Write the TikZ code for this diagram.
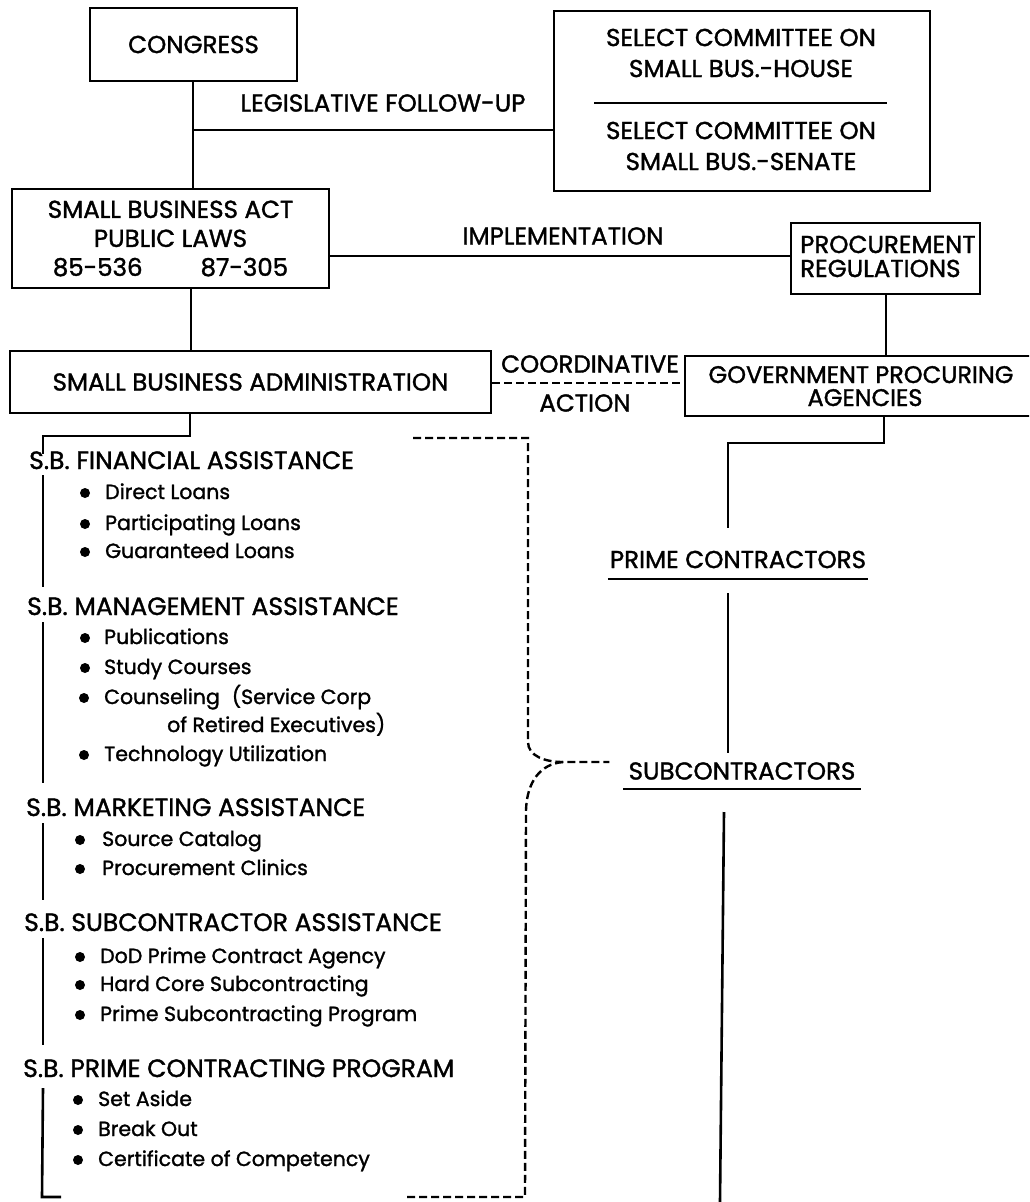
\documentclass[tikz,border=0pt]{standalone}
\usepackage{fontspec}
\setmainfont{Poppins}[FakeBold=1.4]
\newcommand\mybig{\fontsize{24.5}{28}\selectfont}
\newcommand\myhead{\fontsize{25}{29}\selectfont}
\newcommand\myitem{\fontsize{20.5}{24}\selectfont}
\begin{document}
\begin{tikzpicture}[x=1pt,y=-1pt,
  box/.style={draw, line width=2.6pt, inner sep=0pt, font=\mybig},
  conn/.style={line width=2.6pt},
  dconn/.style={line width=2.4pt, dash pattern=on 8pt off 4pt},
  lbl/.style={inner sep=0pt, font=\mybig},
  head/.style={anchor=base west, inner sep=0pt, font=\myhead},
  itm/.style={anchor=base west, inner sep=0pt, font=\myitem},
  dot/.style={circle, fill, inner sep=0pt, minimum size=10pt}
]
\useasboundingbox (0,0) rectangle (1029,1202);
\clip (0,0) rectangle (1029,1202);

% top boxes
\node[box, minimum width=207pt, minimum height=73pt] (congress) at (193.5,44.5) {CONGRESS};
\node[box, minimum width=376pt, minimum height=180pt] (committee) at (742,101) {};
\node[lbl, align=center, font=\fontsize{24.5}{31}\selectfont] (c1) at (741,53) {SELECT COMMITTEE ON\\SMALL BUS.-HOUSE};
\node[lbl, align=center, font=\fontsize{24.5}{31}\selectfont] (c2) at (741,146) {SELECT COMMITTEE ON\\SMALL BUS.-SENATE};
\draw[line width=2.2pt] (594,103) -- (887,103);

\node[box, minimum width=317pt, minimum height=99pt, align=center, font=\fontsize{24.5}{29}\selectfont] (act) at (170.5,238.5) {SMALL BUSINESS ACT\\PUBLIC LAWS\\85-536\hspace{58pt}87-305};
\node[box, minimum width=189pt, minimum height=71pt, inner sep=0pt] (proc) at (885.5,258.5) {};
\node[lbl, anchor=base west] (proc1) at (800,253) {PROCUREMENT};
\node[lbl, anchor=base west] (proc2) at (800,277) {REGULATIONS};
\node[box, minimum width=481pt, minimum height=62pt] (sba) at (250.5,382) {SMALL BUSINESS ADMINISTRATION};
\node[box, minimum width=355pt, minimum height=60pt] (govbox) at (862.5,386) {};
\node[lbl, anchor=base, font=\fontsize{24}{28}\selectfont] (gov1) at (861,383) {GOVERNMENT PROCURING};
\node[lbl, anchor=base, font=\fontsize{24}{28}\selectfont] (gov2) at (865,406) {AGENCIES};

% labels
\node[lbl] (leg) at (383,103) {LEGISLATIVE FOLLOW-UP};
\node[lbl] (impl) at (563,236) {IMPLEMENTATION};
\node[lbl] (coord) at (590,364) {COORDINATIVE};
\node[lbl] (action) at (585,403) {ACTION};

% connectors top
\draw[conn] (congress.south -| 193,0) -- (193,0 |- act.north);
\coordinate (legj) at (193,130);
\draw[conn] (legj) -- (legj -| committee.west);
\draw[conn] (act.east |- 0,256) -- (proc.west |- 0,256);
\draw[conn] (191,0 |- act.south) -- (191,0 |- sba.north);
\draw[conn] (886,0 |- proc.south) -- (886,0 |- govbox.north);
\draw[dconn] (sba.east |- 0,383) -- (govbox.west |- 0,383);

% right column
\node[lbl] (prime) at (738,559.5) {PRIME CONTRACTORS};
\draw[conn] ([xshift=-2pt]prime.west |- 0,579) -- ([xshift=2pt]prime.east |- 0,579);
\node[lbl] (sub) at (742,771) {SUBCONTRACTORS};
\draw[conn] ([xshift=-5pt]sub.west |- 0,789) -- ([xshift=5pt]sub.east |- 0,789);
\draw[conn] (884,0 |- govbox.south) -- (884,443) -- (728,443) -- (728,528);
\draw[conn] (728,593) -- (728,753);
\coordinate (subend) at (720,1202);
\draw[conn] (724,812) -- (subend);

% dashed bracket
\coordinate (tip) at (563,762);
\draw[dconn] (413,438) -- (528,438) -- (528,742) .. controls (528,756) and (545,762) .. (tip) -- ([xshift=-19pt]sub.west |- tip);
\draw[dconn] (tip) .. controls (540,764) and (527,782) .. (526,810) -- (525,1197) -- (405,1197);

% left spine
\draw[conn] (190,0 |- sba.south) -- (190,436) -- (43,436) -- (43,454);
\draw[conn] (43,475) -- (43,587);
\draw[conn] (43,622) -- (43,783);
\draw[conn] (43,823) -- (43,900);
\draw[conn] (43,938) -- (43,1045);
\draw[conn] (43,1088) -- (42,1197) -- (61,1197);

% headings
\node[head] (h1) at (29,469) {S.B. FINANCIAL ASSISTANCE};
\node[head] (h2) at (27,615) {S.B. MANAGEMENT ASSISTANCE};
\node[head] (h3) at (26,816) {S.B. MARKETING ASSISTANCE};
\node[head] (h4) at (24,931) {S.B. SUBCONTRACTOR ASSISTANCE};
\node[head] (h5) at (23,1077) {S.B. PRIME CONTRACTING PROGRAM};

% items
\node[dot] (d1) at (85,493) {}; \node[itm] (i1) at (105,499) {Direct Loans};
\node[dot] (d2) at (85,524) {}; \node[itm] (i2) at (105,530) {Participating Loans};
\node[dot] (d3) at (85,552) {}; \node[itm] (i3) at (105,558) {Guaranteed Loans};
\node[dot] (d4) at (85,638) {}; \node[itm] (i4) at (104,644) {Publications};
\node[dot] (d5) at (85,668) {}; \node[itm] (i5) at (104,674) {Study Courses};
\node[dot] (d6) at (84,698) {}; \node[itm] (i6) at (104,704) {Counseling\hspace{12pt}(Service Corp};
\node[itm] (i6b) at (167,732) {of Retired Executives)};
\node[dot] (d7) at (84,755) {}; \node[itm] (i7) at (104,761) {Technology Utilization};
\node[dot] (d8) at (80,840) {}; \node[itm] (i8) at (102,846) {Source Catalog};
\node[dot] (d9) at (80,869) {}; \node[itm] (i9) at (102,875) {Procurement Clinics};
\node[dot] (d10) at (80,957) {}; \node[itm] (i10) at (100,963) {DoD Prime Contract Agency};
\node[dot] (d11) at (80,985) {}; \node[itm] (i11) at (100,991) {Hard Core Subcontracting};
\node[dot] (d12) at (80,1015) {}; \node[itm] (i12) at (100,1021) {Prime Subcontracting Program};
\node[dot] (d13) at (78,1100) {}; \node[itm] (i13) at (98,1106) {Set Aside};
\node[dot] (d14) at (78,1130) {}; \node[itm] (i14) at (98,1136) {Break Out};
\node[dot] (d15) at (78,1160) {}; \node[itm] (i15) at (98,1166) {Certificate of Competency};
\end{tikzpicture}
\end{document}
